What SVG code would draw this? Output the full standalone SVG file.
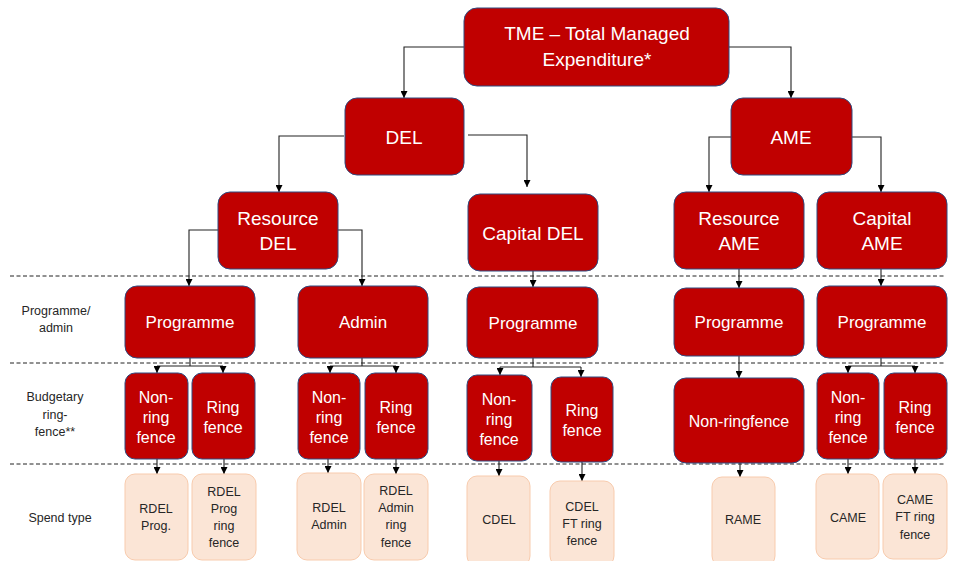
<svg xmlns="http://www.w3.org/2000/svg" width="962" height="561" viewBox="0 0 962 561">
<style>
.n{fill:#C00000;stroke:#2F4A80;stroke-width:1}
.p{fill:#FBE5D6;stroke:#F8CBAD;stroke-width:1}
.t{font-family:"Liberation Sans",Arial,sans-serif;fill:#fff;text-anchor:middle;dominant-baseline:central}
.t19{font-size:19px}
.t17{font-size:17px}
.t16{font-size:16px}
.s{font-family:"Liberation Sans",Arial,sans-serif;fill:#262626;text-anchor:middle;dominant-baseline:central;font-size:12.5px}
.c{fill:none;stroke:#222;stroke-width:1.1}
.d{fill:none;stroke:#222;stroke-width:1;stroke-dasharray:4 2.5}
</style>
<defs>
<marker id="a" viewBox="0 0 10 10" refX="10" refY="5" markerWidth="7" markerHeight="7" markerUnits="userSpaceOnUse" orient="auto"><path d="M0,0 L10,5 L0,10 z" fill="#000"/></marker>
</defs>
<rect width="962" height="561" fill="#fff"/>
<g id="dividers">
<line class="d" x1="10" y1="276" x2="946" y2="276"/>
<line class="d" x1="10" y1="363" x2="946" y2="363"/>
<line class="d" x1="10" y1="464" x2="946" y2="464"/>
</g>
<g id="row-labels">
<text class="s" x="56" y="311">Programme/</text>
<text class="s" x="56" y="328">admin</text>
<text class="s" x="55" y="397">Budgetary</text>
<text class="s" x="55" y="415">ring-</text>
<text class="s" x="55" y="432">fence**</text>
<text class="s" x="60" y="518">Spend type</text>
</g>
<g id="connectors">
<path class="c" marker-end="url(#a)" d="M464,47 H404 V98"/>
<path class="c" marker-end="url(#a)" d="M729,47 H791 V98"/>
<path class="c" marker-end="url(#a)" d="M344,136 H279 V192"/>
<path class="c" marker-end="url(#a)" d="M468,135 H527 V187"/>
<path class="c" marker-end="url(#a)" d="M731,137 H709 V192"/>
<path class="c" marker-end="url(#a)" d="M852,137 H881 V192"/>
<path class="c" marker-end="url(#a)" d="M218,230 H189 V286"/>
<path class="c" marker-end="url(#a)" d="M338,230 H362 V286"/>
<path class="c" marker-end="url(#a)" d="M533,271 V287"/>
<path class="c" marker-end="url(#a)" d="M739,269 V288"/>
<path class="c" marker-end="url(#a)" d="M881,269 V286"/>
<path class="c" d="M190,358 V366 M157,366 H223 M362,358 V366 M330,366 H396 M533,358 V367 M500,367 H581 M881,358 V366 M848,366 H915"/>
<path class="c" marker-end="url(#a)" d="M157,366 V373"/>
<path class="c" marker-end="url(#a)" d="M223,366 V373"/>
<path class="c" marker-end="url(#a)" d="M330,366 V373"/>
<path class="c" marker-end="url(#a)" d="M396,366 V373"/>
<path class="c" marker-end="url(#a)" d="M500,367 V375"/>
<path class="c" marker-end="url(#a)" d="M581,367 V377"/>
<path class="c" marker-end="url(#a)" d="M739,356 V378"/>
<path class="c" marker-end="url(#a)" d="M848,366 V373"/>
<path class="c" marker-end="url(#a)" d="M915,366 V373"/>
<path class="c" marker-end="url(#a)" d="M157,459 V474"/>
<path class="c" marker-end="url(#a)" d="M224,459 V474"/>
<path class="c" marker-end="url(#a)" d="M328,459 V473"/>
<path class="c" marker-end="url(#a)" d="M396,459 V474"/>
<path class="c" marker-end="url(#a)" d="M499,461 V476"/>
<path class="c" marker-end="url(#a)" d="M582,462 V481"/>
<path class="c" marker-end="url(#a)" d="M740,463 V477"/>
<path class="c" marker-end="url(#a)" d="M848,459 V474"/>
<path class="c" marker-end="url(#a)" d="M915,459 V474"/>
</g>
<g id="tme"><rect class="n" x="464" y="8" width="265" height="78" rx="13"/><text class="t t19" x="597" y="33">TME – Total Managed</text><text class="t t19" x="597" y="59">Expenditure*</text></g>
<g id="del"><rect class="n" x="345" y="98" width="119" height="77" rx="12"/><text class="t t19" x="404" y="137">DEL</text></g>
<g id="ame"><rect class="n" x="731" y="98" width="121" height="77" rx="12"/><text class="t t19" x="791" y="137">AME</text></g>
<g id="resource-del"><rect class="n" x="218" y="192" width="120" height="77" rx="12"/><text class="t t19" x="278" y="218">Resource</text><text class="t t19" x="278" y="243">DEL</text></g>
<g id="capital-del"><rect class="n" x="468" y="194" width="130" height="77" rx="12"/><text class="t t19" x="533" y="233">Capital DEL</text></g>
<g id="resource-ame"><rect class="n" x="674" y="192" width="130" height="77" rx="12"/><text class="t t19" x="739" y="218">Resource</text><text class="t t19" x="739" y="243">AME</text></g>
<g id="capital-ame"><rect class="n" x="817" y="192" width="130" height="77" rx="12"/><text class="t t19" x="882" y="218">Capital</text><text class="t t19" x="882" y="243">AME</text></g>
<g id="rdel-programme"><rect class="n" x="125" y="286" width="130" height="72" rx="12"/><text class="t t17" x="190" y="322">Programme</text></g>
<g id="rdel-admin"><rect class="n" x="298" y="286" width="130" height="72" rx="12"/><text class="t t17" x="363" y="322">Admin</text></g>
<g id="cdel-programme"><rect class="n" x="467" y="287" width="131" height="71" rx="12"/><text class="t t17" x="533" y="323">Programme</text></g>
<g id="rame-programme"><rect class="n" x="674" y="288" width="130" height="68" rx="12"/><text class="t t17" x="739" y="322">Programme</text></g>
<g id="came-programme"><rect class="n" x="817" y="286" width="130" height="72" rx="12"/><text class="t t17" x="882" y="322">Programme</text></g>
<g id="rdel-prog-nrf"><rect class="n" x="125" y="373" width="63" height="86" rx="10"/><text class="t t16" x="156" y="397">Non-</text><text class="t t16" x="156" y="417">ring</text><text class="t t16" x="156" y="437">fence</text></g>
<g id="rdel-prog-rf"><rect class="n" x="192" y="373" width="63" height="86" rx="10"/><text class="t t16" x="223" y="407">Ring</text><text class="t t16" x="223" y="427">fence</text></g>
<g id="rdel-admin-nrf"><rect class="n" x="298" y="373" width="62" height="86" rx="10"/><text class="t t16" x="329" y="397">Non-</text><text class="t t16" x="329" y="417">ring</text><text class="t t16" x="329" y="437">fence</text></g>
<g id="rdel-admin-rf"><rect class="n" x="365" y="373" width="63" height="86" rx="10"/><text class="t t16" x="396" y="407">Ring</text><text class="t t16" x="396" y="427">fence</text></g>
<g id="cdel-nrf"><rect class="n" x="467" y="375" width="65" height="86" rx="10"/><text class="t t16" x="499" y="399">Non-</text><text class="t t16" x="499" y="419">ring</text><text class="t t16" x="499" y="439">fence</text></g>
<g id="cdel-rf"><rect class="n" x="551" y="377" width="62" height="85" rx="10"/><text class="t t16" x="582" y="410">Ring</text><text class="t t16" x="582" y="430">fence</text></g>
<g id="rame-nrf"><rect class="n" x="674" y="378" width="130" height="85" rx="12"/><text class="t t16" x="739" y="421">Non-ringfence</text></g>
<g id="came-nrf"><rect class="n" x="817" y="373" width="62" height="86" rx="10"/><text class="t t16" x="848" y="397">Non-</text><text class="t t16" x="848" y="417">ring</text><text class="t t16" x="848" y="437">fence</text></g>
<g id="came-rf"><rect class="n" x="884" y="373" width="63" height="86" rx="10"/><text class="t t16" x="915" y="407">Ring</text><text class="t t16" x="915" y="427">fence</text></g>
<g id="rdel-prog"><rect class="p" x="125" y="474" width="63" height="86" rx="10"/><text class="s" x="156" y="509">RDEL</text><text class="s" x="156" y="526">Prog.</text></g>
<g id="rdel-prog-ring"><rect class="p" x="192" y="474" width="64" height="86" rx="10"/><text class="s" x="224" y="492">RDEL</text><text class="s" x="224" y="509">Prog</text><text class="s" x="224" y="526">ring</text><text class="s" x="224" y="543">fence</text></g>
<g id="rdel-admin-spend"><rect class="p" x="297" y="473" width="64" height="87" rx="10"/><text class="s" x="329" y="508">RDEL</text><text class="s" x="329" y="525">Admin</text></g>
<g id="rdel-admin-ring"><rect class="p" x="364" y="474" width="64" height="86" rx="10"/><text class="s" x="396" y="491">RDEL</text><text class="s" x="396" y="508">Admin</text><text class="s" x="396" y="525">ring</text><text class="s" x="396" y="543">fence</text></g>
<g id="cdel"><rect class="p" x="467" y="476" width="63" height="90" rx="10"/><text class="s" x="499" y="520">CDEL</text></g>
<g id="cdel-ft"><rect class="p" x="550" y="481" width="64" height="85" rx="10"/><text class="s" x="582" y="507">CDEL</text><text class="s" x="582" y="524">FT ring</text><text class="s" x="582" y="541">fence</text></g>
<g id="rame"><rect class="p" x="712" y="477" width="63" height="89" rx="10"/><text class="s" x="743" y="520">RAME</text></g>
<g id="came"><rect class="p" x="816" y="474" width="63" height="85" rx="10"/><text class="s" x="848" y="518">CAME</text></g>
<g id="came-ft"><rect class="p" x="883" y="474" width="64" height="85" rx="10"/><text class="s" x="915" y="500">CAME</text><text class="s" x="915" y="517">FT ring</text><text class="s" x="915" y="535">fence</text></g>
</svg>
